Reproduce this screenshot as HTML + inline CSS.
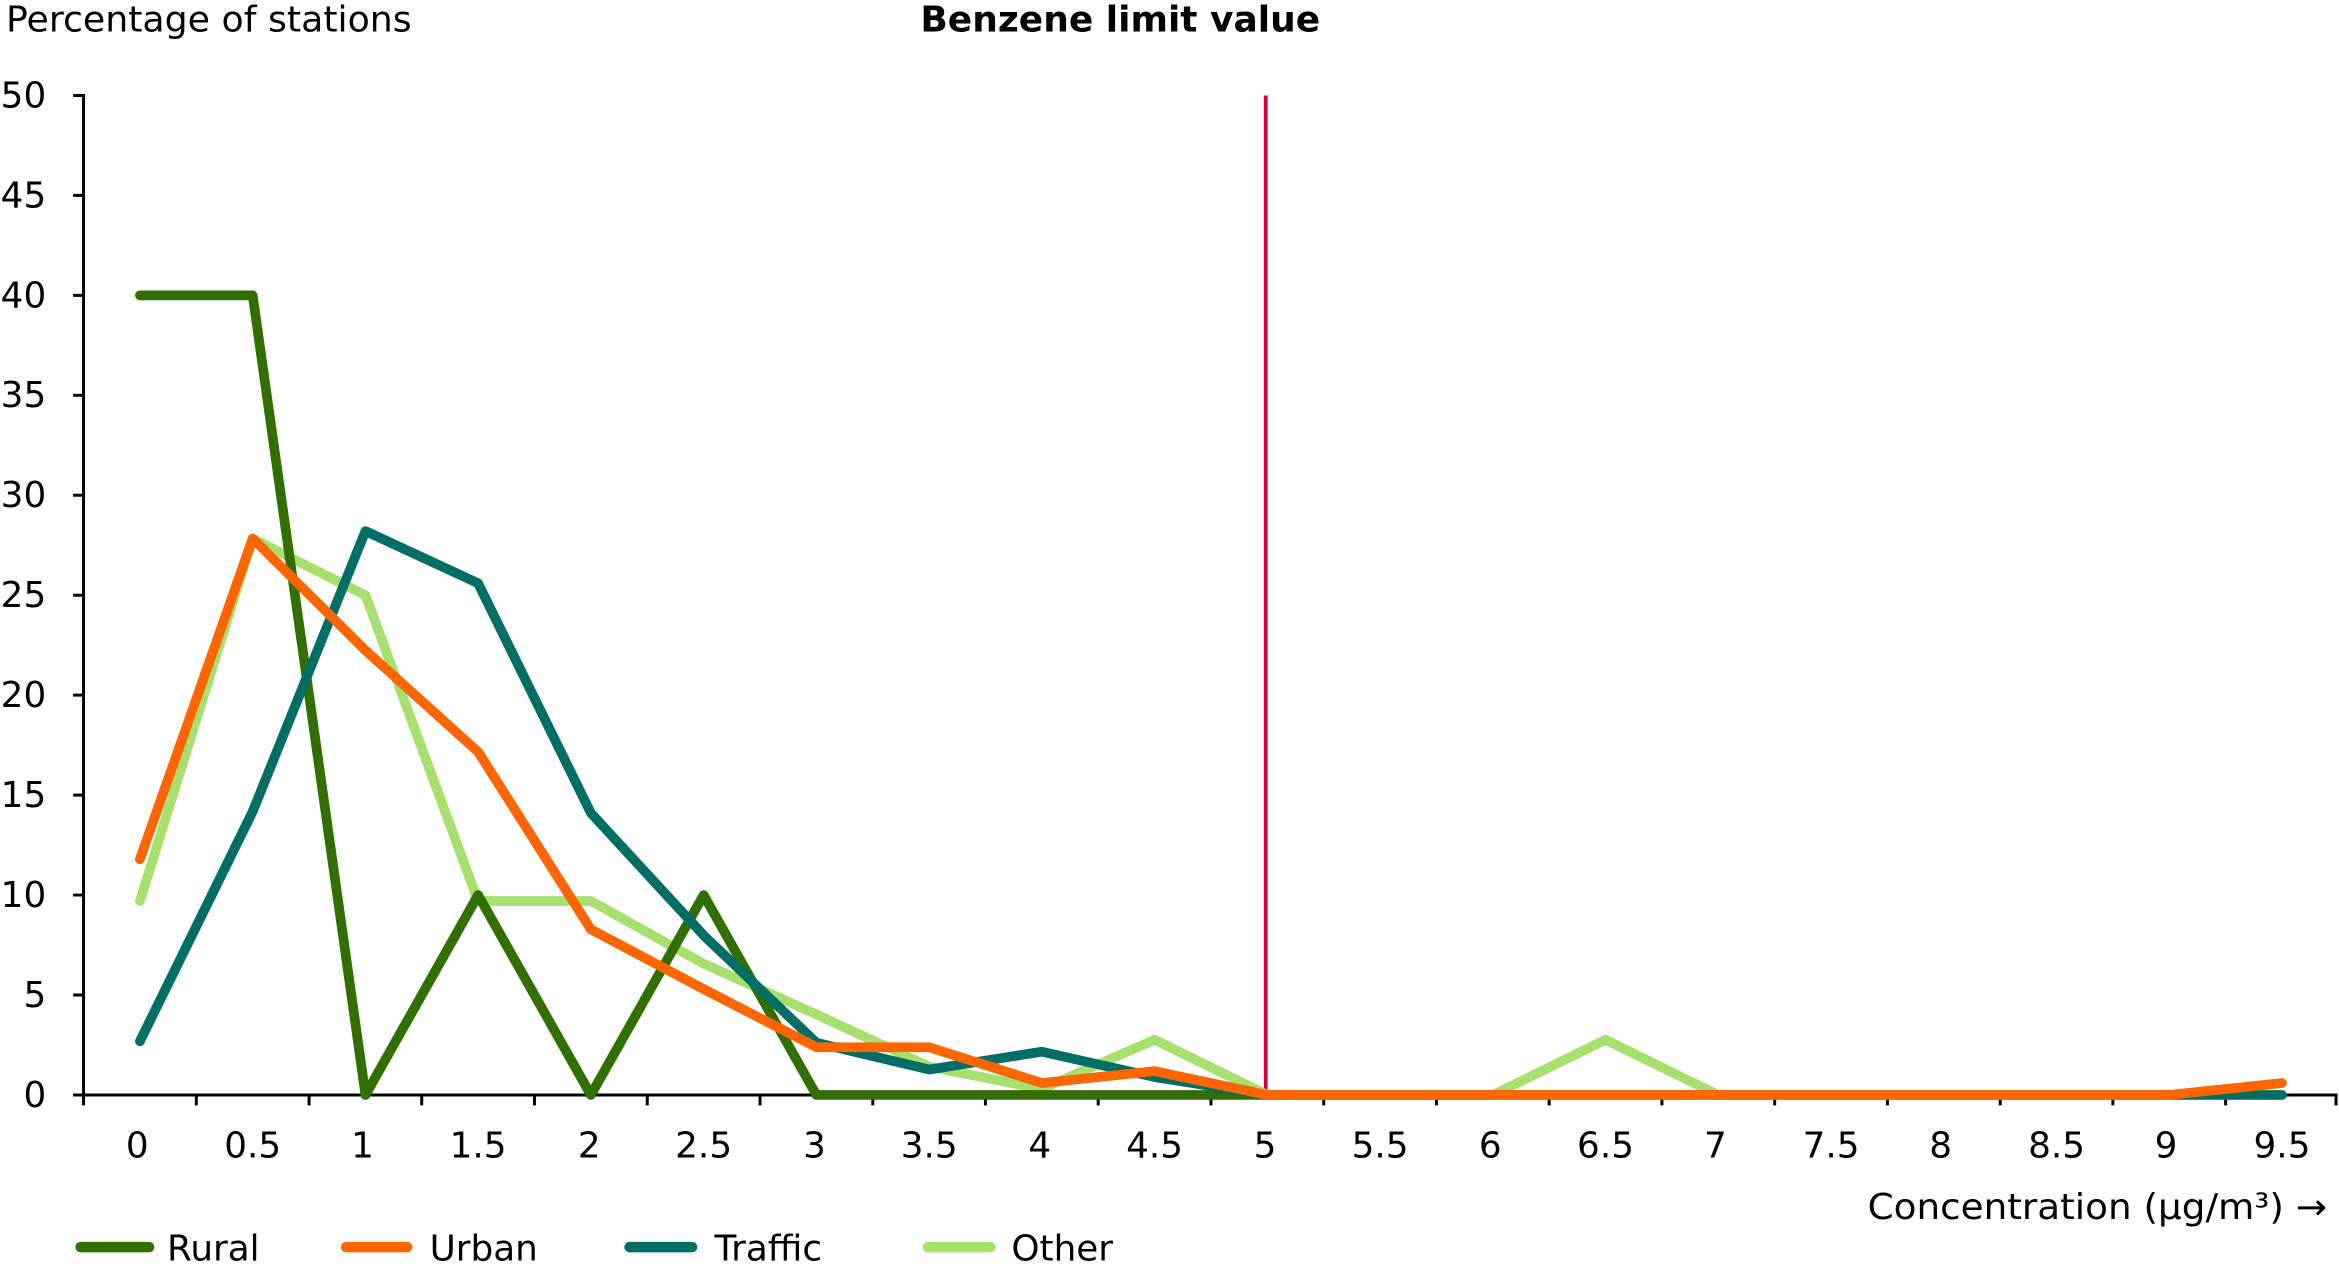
<!DOCTYPE html>
<html><head><meta charset="utf-8"><style>
html,body{margin:0;padding:0;background:#fff;}
svg{display:block;}
text{font-family:"DejaVu Sans","Liberation Sans",sans-serif;fill:#000;}
</style></head><body>
<svg width="2339" height="1268" viewBox="0 0 1568 850" preserveAspectRatio="none" xmlns="http://www.w3.org/2000/svg">
<text x="4" y="21" font-size="24" textLength="272" lengthAdjust="spacingAndGlyphs">Percentage of stations</text>
<text x="617" y="21" font-size="24" font-weight="bold" textLength="268" lengthAdjust="spacingAndGlyphs">Benzene limit value</text>
<g font-size="24" text-anchor="end">
<text x="31" y="72">50</text><text x="31" y="139">45</text><text x="31" y="206">40</text><text x="31" y="273">35</text><text x="31" y="340">30</text><text x="31" y="407">25</text><text x="31" y="474">20</text><text x="31" y="541">15</text><text x="31" y="608">10</text><text x="31" y="675">5</text><text x="31" y="742">0</text>
</g>
<g stroke="#000" stroke-width="2">
<line x1="56" y1="63" x2="56" y2="735"/>
<line x1="56" y1="734" x2="1567" y2="734"/>
<path d="M49 64H56M49 131H56M49 198H56M49 265H56M49 332H56M49 399H56M49 466H56M49 533H56M49 600H56M49 667H56M49 734H56"/>
<path d="M56 734V741M131.6 734V741M207.2 734V741M282.7 734V741M358.3 734V741M433.9 734V741M509.5 734V741M585.1 734V741M660.6 734V741M736.2 734V741M811.8 734V741M887.4 734V741M963 734V741M1038.5 734V741M1114.1 734V741M1189.7 734V741M1265.3 734V741M1340.9 734V741M1416.4 734V741M1492 734V741M1566 734V741"/>
</g>
<g font-size="24" text-anchor="middle">
<text x="92" y="776">0</text><text x="169.4" y="776">0.5</text><text x="243" y="776">1</text><text x="320.5" y="776">1.5</text><text x="395" y="776">2</text><text x="471.7" y="776">2.5</text><text x="546" y="776">3</text><text x="622.9" y="776">3.5</text><text x="697" y="776">4</text><text x="774" y="776">4.5</text><text x="848" y="776">5</text><text x="925.2" y="776">5.5</text><text x="999" y="776">6</text><text x="1076.3" y="776">6.5</text><text x="1150" y="776">7</text><text x="1227.5" y="776">7.5</text><text x="1301" y="776">8</text><text x="1378.7" y="776">8.5</text><text x="1452" y="776">9</text><text x="1529.8" y="776">9.5</text>
</g>
<text x="1252" y="817" font-size="24" textLength="308" lengthAdjust="spacingAndGlyphs">Concentration (µg/m³) →</text>
<line x1="848.5" y1="64" x2="848.5" y2="734" stroke="#d6003c" stroke-width="2.5"/>
<g fill="none" stroke-width="6.5" stroke-linejoin="round" stroke-linecap="round">
<polyline stroke="#a8e070" points="93.8,604 169.4,361 245,399 320.5,604 396.1,604 471.7,646 547.3,680 622.9,715 698.4,730 774,697 849.6,734 925.2,734 1000.8,734 1076.3,697 1151.9,734 1227.5,734 1303.1,734 1378.7,734 1454.2,734 1529.8,734"/>
<polyline stroke="#336e00" points="93.8,198 169.4,198 245,734 320.5,600 396.1,734 471.7,600 547.3,734 622.9,734 698.4,734 774,734 849.6,734"/>
<polyline stroke="#006e64" points="93.8,698 169.4,544 245,356 320.5,391 396.1,545 471.7,627 547.3,699 622.9,717 698.4,705 774,722 849.6,734 925.2,734 1000.8,734 1076.3,734 1151.9,734 1227.5,734 1303.1,734 1378.7,734 1454.2,734 1529.8,734"/>
<polyline stroke="#ff6600" points="93.8,576 169.4,361 245,436 320.5,504 396.1,623 471.7,663 547.3,702 622.9,702 698.4,726 774,718 849.6,734 925.2,734 1000.8,734 1076.3,734 1151.9,734 1227.5,734 1303.1,734 1378.7,734 1454.2,734 1529.8,726"/>
</g>
<g stroke-width="7" stroke-linecap="round">
<line x1="54" y1="836" x2="100" y2="836" stroke="#336e00"/>
<line x1="232" y1="836" x2="273" y2="836" stroke="#ff6600"/>
<line x1="422" y1="836" x2="464" y2="836" stroke="#006e64"/>
<line x1="622" y1="836" x2="664" y2="836" stroke="#a8e070"/>
</g>
<g font-size="24">
<text x="112" y="845">Rural</text><text x="288" y="845">Urban</text><text x="479" y="845">Traffic</text><text x="678" y="845">Other</text>
</g>
</svg>
</body></html>
